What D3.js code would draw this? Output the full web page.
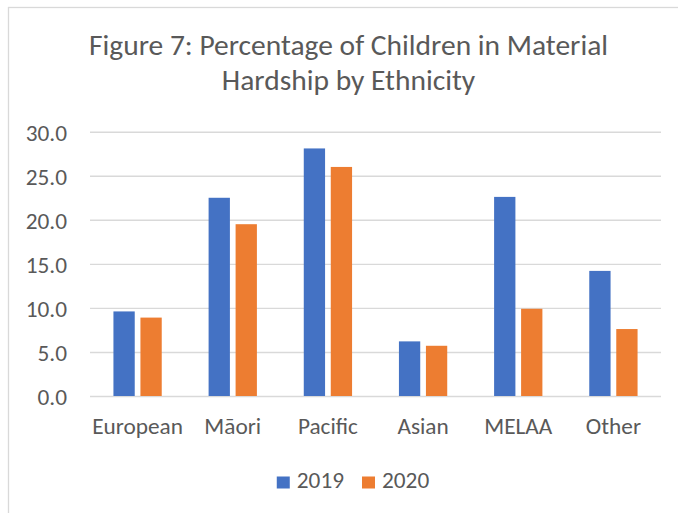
<!DOCTYPE html>
<html>
<head>
<meta charset="utf-8">
<script src="https://cdn.jsdelivr.net/npm/d3@7"></script>
<style>
  html, body { margin: 0; padding: 0; background: #ffffff; }
  svg { display: block; }
  text { font-family: Carlito, Lato, "Open Sans", sans-serif; fill: #595959; }
</style>
</head>
<body>
<svg id="chart" width="678" height="513"></svg>
<script>
// Percentage of children in material hardship, by ethnicity
const categories = ["European", "Māori", "Pacific", "Asian", "MELAA", "Other"];
const seriesNames = ["2019", "2020"];
const values2019 = [9.6, 22.5, 28.1, 6.2, 22.6, 14.2];
const values2020 = [8.9, 19.5, 26.0, 5.7, 9.9, 7.6];
const yTicks = [0, 5, 10, 15, 20, 25, 30];
const titleLines = ["Figure 7: Percentage of Children in Material", "Hardship by Ethnicity"];

const colors = { "2019": "#4472C4", "2020": "#ED7D31" };
const plot = { left: 90, right: 661, top: 131.7, bottom: 396 };
const labelSize = "23.3px";

const svg = d3.select("#chart");

// chart area frame (extends past the visible page on the right and bottom)
svg.append("rect")
  .attr("x", 8.5).attr("y", 7.5)
  .attr("width", 700).attr("height", 560)
  .attr("fill", "#ffffff")
  .attr("stroke", "#D9D9D9").attr("stroke-width", 1.3);

// title
svg.append("g").selectAll("text")
  .data(titleLines)
  .join("text")
  .attr("x", 348.5)
  .attr("y", (d, i) => 55 + i * 35)
  .attr("text-anchor", "middle")
  .style("font-size", "29.5px")
  .text(d => d);

const x = d3.scaleBand()
  .domain(categories)
  .range([plot.left, plot.right])
  .paddingInner(0.4925)
  .paddingOuter(0.4925 / 2);

const xs = d3.scaleBand()
  .domain(seriesNames)
  .range([0, x.bandwidth()])
  .paddingInner(0.211);

const y = d3.scaleLinear()
  .domain([0, 30])
  .range([plot.bottom, plot.top]);

// gridlines + y labels
const yAxis = svg.append("g")
  .attr("transform", `translate(${plot.left},0)`)
  .call(d3.axisLeft(y)
    .tickValues(yTicks)
    .tickSize(-(plot.right - plot.left))
    .tickPadding(23)
    .tickFormat(d3.format(".1f")));
yAxis.select(".domain").remove();
yAxis.selectAll(".tick line").attr("stroke", "#D9D9D9").attr("stroke-width", 1.4);
yAxis.selectAll(".tick text")
  .attr("fill", "#595959")
  .style("font-size", labelSize)
  .attr("dy", "0.36em");

// bars
const rows = categories.map((c, i) => ({ category: c, "2019": values2019[i], "2020": values2020[i] }));
svg.append("g")
  .selectAll("g")
  .data(rows)
  .join("g")
  .attr("transform", d => `translate(${x(d.category)},0)`)
  .selectAll("rect")
  .data(d => seriesNames.map(s => ({ series: s, value: d[s] })))
  .join("rect")
  .attr("x", d => xs(d.series))
  .attr("y", d => y(d.value))
  .attr("width", xs.bandwidth())
  .attr("height", d => y(0) - y(d.value))
  .attr("fill", d => colors[d.series]);

// category axis
const xAxis = svg.append("g")
  .attr("transform", `translate(0,${plot.bottom})`)
  .call(d3.axisBottom(x).tickSize(0).tickPadding(0));
xAxis.select(".domain").remove();
xAxis.selectAll(".tick text")
  .attr("fill", "#595959")
  .attr("dy", null)
  .attr("y", 38.3)
  .style("font-size", labelSize);

// legend
const legend = svg.append("g");
const items = legend.selectAll("g")
  .data(seriesNames)
  .join("g");
items.append("rect")
  .attr("width", 13).attr("height", 12)
  .attr("y", -11.5)
  .attr("fill", d => colors[d]);
items.append("text")
  .attr("x", 20)
  .attr("y", 0)
  .style("font-size", labelSize)
  .text(d => d);
let cursor = 0;
items.each(function () {
  const g = d3.select(this);
  g.attr("transform", `translate(${cursor},0)`);
  cursor += 20 + g.select("text").node().getComputedTextLength() + 18;
});
const legendWidth = cursor - 18;
legend.attr("transform", `translate(${353 - legendWidth / 2},488)`);
</script>
</body>
</html>
